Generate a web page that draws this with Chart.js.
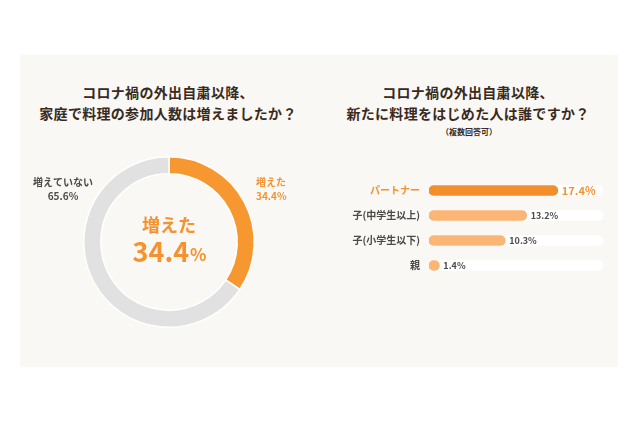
<!DOCTYPE html>
<html>
<head>
<meta charset="utf-8">
<script src="https://cdn.jsdelivr.net/npm/chart.js@4.4.0/dist/chart.umd.min.js"></script>
<style>
  body { margin: 0; background: #fff; width: 640px; height: 426px; position: relative; overflow: hidden;
         font-family: "Noto Sans CJK JP", "Noto Sans", sans-serif; }
  .panel { position: absolute; left: 20px; top: 55px; width: 598px; height: 312px; background: #f9f8f4; }
  .title { position: absolute; width: 300px; text-align: center; font-size: 14px; font-weight: bold;
           color: #3a2a1e; line-height: 21px; letter-spacing: 0.3px; }
  .sub { position: absolute; width: 300px; text-align: center; font-size: 8px; font-weight: bold; color: #3a2a1e; }
</style>
</head>
<body>
<div class="panel"></div>
<div class="title" style="left:18px; top:82px;">コロナ禍の外出自粛以降、<br>家庭で料理の参加人数は増えましたか？</div>
<div class="title" style="left:318px; top:82px;">コロナ禍の外出自粛以降、<br>新たに料理をはじめた人は誰ですか？</div>
<div class="sub" style="left:319px; top:126px;">（複数回答可）</div>
<canvas id="donut" width="298" height="204" style="position:absolute; left:20px; top:140px; width:298px; height:204px;"></canvas>
<canvas id="bars" width="298" height="130" style="position:absolute; left:320px; top:163px; width:298px; height:130px;"></canvas>
<script>
// left: donut
const donutLabels = ['増えた', '増えていない'];
const donutValues = [34.4, 65.6];
const donutColors = ['#f7972f', '#e1e1e1'];

// right: bars
const barLabels = ['パートナー', '子(中学生以上)', '子(小学生以下)', '親'];
const barValues = [17.4, 13.2, 10.3, 1.4];
const barMax = 23.5;

const ORANGE = '#f5922f';
const GRAY_TEXT = '#4a4a4a';
const FONT = '"Noto Sans CJK JP", "Noto Sans", sans-serif';

// labels around and inside the donut
const donutText = {
    id: 'donutText',
    afterDraw(chart) {
        const ctx = chart.ctx;
        const arc = chart.getDatasetMeta(0).data[0];
        const cx = arc.x, cy = arc.y;
        ctx.save();
        ctx.textBaseline = 'middle';
        ctx.textAlign = 'center';
        ctx.fillStyle = ORANGE;
        ctx.font = 'bold 18px ' + FONT;
        ctx.fillText(donutLabels[0], cx, cy - 17);
        // big number with smaller %
        const num = donutValues[0].toFixed(1);
        ctx.font = 'bold 27px ' + FONT;
        const w1 = ctx.measureText(num).width;
        ctx.font = 'bold 17px ' + FONT;
        const w2 = ctx.measureText('%').width;
        const x0 = cx - (w1 + w2) / 2;
        ctx.textAlign = 'left';
        ctx.font = 'bold 27px ' + FONT;
        ctx.fillText(num, x0, cy + 10);
        ctx.font = 'bold 17px ' + FONT;
        ctx.fillText('%', x0 + w1 + 1, cy + 13);

        // outside labels
        ctx.font = 'bold 10px ' + FONT;
        ctx.textAlign = 'left';
        ctx.fillStyle = ORANGE;
        ctx.fillText(donutLabels[0], cx + 87, cy - 60);
        ctx.fillText(donutValues[0].toFixed(1) + '%', cx + 87, cy - 46);
        ctx.textAlign = 'center';
        ctx.fillStyle = GRAY_TEXT;
        ctx.fillText(donutLabels[1], cx - 106, cy - 60);
        ctx.fillText(donutValues[1].toFixed(1) + '%', cx - 106, cy - 46);
        ctx.restore();
    }
};

new Chart(document.getElementById('donut'), {
    type: 'doughnut',
    data: {
        labels: donutLabels,
        datasets: [{
            data: donutValues,
            backgroundColor: donutColors,
            borderColor: '#ffffff',
            borderWidth: 1.5,
            cutout: '80%'
        }]
    },
    options: {
        responsive: false,
        animation: false,
        layout: { padding: { top: 16, bottom: 16 } },
        plugins: { legend: { display: false }, tooltip: { enabled: false } }
    },
    plugins: [donutText]
});

// value labels at the end of each bar
const barText = {
    id: 'barText',
    afterDatasetsDraw(chart) {
        const ctx = chart.ctx;
        const meta = chart.getDatasetMeta(0);
        ctx.save();
        ctx.textBaseline = 'middle';
        ctx.textAlign = 'left';
        meta.data.forEach((bar, i) => {
            const first = i === 0;
            ctx.fillStyle = first ? ORANGE : GRAY_TEXT;
            ctx.font = 'bold ' + (first ? 11 : 9) + 'px ' + FONT;
            ctx.fillText(barValues[i].toFixed(1) + '%', bar.x + 4, bar.y + 0.5);
        });
        ctx.restore();
    }
};

new Chart(document.getElementById('bars'), {
    type: 'bar',
    data: {
        labels: barLabels,
        datasets: [{
            data: barValues,
            backgroundColor: barValues.map((v, i) => i === 0 ? '#f28e2c' : '#fbb574'),
            borderRadius: 5,
            borderSkipped: false,
            barThickness: 10,
            grouped: false,
            order: 1
        }, {
            data: barLabels.map(() => barMax),
            backgroundColor: '#ffffff',
            borderRadius: 5,
            borderSkipped: false,
            barThickness: 10,
            grouped: false,
            order: 2
        }]
    },
    options: {
        indexAxis: 'y',
        responsive: false,
        animation: false,
        layout: { padding: { right: 15 } },
        scales: {
            x: { display: false, min: 0, max: barMax },
            y: {
                grid: { display: false, drawTicks: false },
                border: { display: false },
                afterFit(scale) { scale.width = 109; },
                ticks: {
                    padding: 9,
                    color: ctx => ctx.index === 0 ? ORANGE : GRAY_TEXT,
                    font: ctx => ({ family: FONT, weight: 'bold', size: ctx.index === 0 ? 10 : 10 })
                }
            }
        },
        plugins: { legend: { display: false }, tooltip: { enabled: false } }
    },
    plugins: [barText]
});
</script>
</body>
</html>
